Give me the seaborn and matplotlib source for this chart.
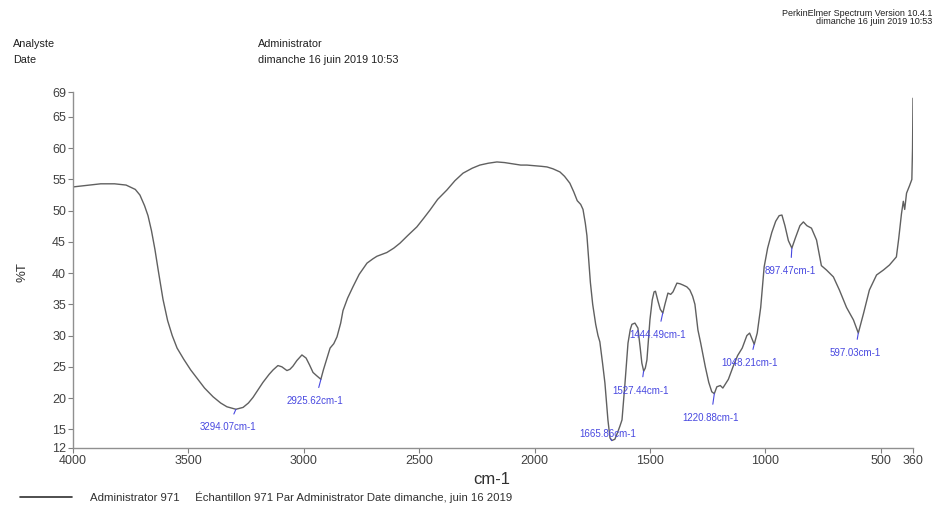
import matplotlib
matplotlib.use("Agg")
import matplotlib.pyplot as plt
import seaborn as sns
import pandas as pd

# ---- data ----
wavenumber = [4000, 3950, 3880, 3820, 3770, 3730, 3710, 3690, 3675, 3660, 3645, 3630, 3610, 3590,
              3570, 3549, 3520, 3490, 3463, 3430, 3393, 3360, 3333, 3294, 3263, 3240, 3220, 3200,
              3177, 3150, 3133, 3112, 3095, 3073, 3060, 3047, 3030, 3008, 2990, 2975, 2960, 2945,
              2926, 2915, 2900, 2886, 2870, 2856, 2840, 2830, 2810, 2787, 2760, 2726, 2700, 2683,
              2640, 2610, 2583, 2550, 2510, 2480, 2453, 2420, 2380, 2345, 2310, 2270, 2237, 2200,
              2163, 2130, 2094, 2060, 2033, 2000, 1970, 1946, 1920, 1890, 1870, 1847, 1830, 1815,
              1800, 1790, 1780, 1773, 1765, 1758, 1748, 1735, 1725, 1717, 1705, 1695, 1682, 1673,
              1665, 1652, 1640, 1630, 1621, 1608, 1595, 1585, 1578, 1565, 1552, 1542, 1535, 1527,
              1520, 1513, 1500, 1490, 1482, 1476, 1465, 1455, 1444, 1435, 1422, 1410, 1400, 1383,
              1370, 1357, 1340, 1327, 1315, 1305, 1292, 1280, 1260, 1245, 1232, 1221, 1210, 1195,
              1184, 1172, 1160, 1140, 1120, 1100, 1080, 1068, 1048, 1035, 1020, 1005, 990, 972,
              955, 940, 928, 915, 900, 885, 870, 850, 835, 820, 800, 778, 757, 735, 705, 679, 648,
              618, 597, 574, 549, 518, 488, 462, 432, 422, 410, 402, 396, 388, 375, 365,
              362, 360]
transmittance = [53.8, 54.0, 54.3, 54.3, 54.1, 53.4, 52.5, 50.8, 49.2, 46.8, 43.8, 40.3, 35.8, 32.4,
                 30.0, 28.0, 26.2, 24.5, 23.2, 21.6, 20.2, 19.2, 18.6, 18.2, 18.5, 19.2, 20.1, 21.2,
                 22.5, 23.8, 24.5, 25.2, 25.0, 24.4, 24.6, 25.1, 26.0, 26.9, 26.4, 25.3, 24.1, 23.6,
                 23.0, 24.5, 26.3, 28.0, 28.7, 29.8, 32.0, 34.0, 36.0, 37.8, 39.8, 41.6, 42.3, 42.7,
                 43.3, 44.0, 44.8, 46.0, 47.4, 48.8, 50.1, 51.8, 53.3, 54.8, 56.0, 56.8, 57.3, 57.6,
                 57.8, 57.7, 57.5, 57.3, 57.3, 57.2, 57.1, 57.0, 56.7, 56.2, 55.5, 54.4, 53.0, 51.6,
                 51.0, 50.2, 48.0, 46.0, 42.0, 38.5, 35.0, 31.8, 30.0, 29.0, 25.5, 22.4, 16.5, 13.6,
                 13.2, 13.4, 14.5, 15.5, 16.5, 22.4, 28.8, 31.0, 31.8, 32.0, 31.2, 28.0, 25.6, 24.3,
                 24.8, 26.1, 32.5, 35.7, 37.0, 37.1, 35.5, 34.2, 33.6, 35.0, 36.8, 36.6, 37.0, 38.4,
                 38.3, 38.1, 37.8, 37.3, 36.3, 35.0, 30.9, 28.8, 25.0, 22.5, 21.0, 20.7, 21.8, 22.0,
                 21.6, 22.3, 23.0, 25.0, 26.8, 28.0, 30.0, 30.4, 28.6, 30.4, 34.5, 41.0, 44.0, 46.5,
                 48.3, 49.2, 49.3, 47.6, 45.2, 44.0, 45.6, 47.6, 48.2, 47.6, 47.2, 45.3, 41.2, 40.5,
                 39.4, 37.3, 34.5, 32.5, 30.4, 33.6, 37.3, 39.7, 40.5, 41.3, 42.6, 45.5,
                 49.5, 51.5, 50.2, 52.8, 54.0, 55.0, 60.0, 68.0]

peak_labels = ["3294.07cm-1", "2925.62cm-1", "1665.86cm-1", "1527.44cm-1", "1444.49cm-1",
               "1220.88cm-1", "1048.21cm-1", "897.47cm-1", "597.03cm-1"]
peak_x = [3294.07, 2925.62, 1665.86, 1527.44, 1444.49, 1220.88, 1048.21, 885, 597.03]
peak_y = [18.2, 23.0, 13.2, 24.3, 33.6, 20.7, 28.6, 44.0, 30.4]
label_x = [3328, 2951, 1682, 1539, 1465, 1236, 1068, 891, 612]
label_y = [15.3, 19.5, 14.2, 21.2, 30.1, 16.8, 25.6, 40.3, 27.2]

x_ticks = [4000, 3500, 3000, 2500, 2000, 1500, 1000, 500, 360]
y_ticks = [12, 15, 20, 25, 30, 35, 40, 45, 50, 55, 60, 65, 69]

# ---- style ----
sns.set_style("white")
plt.rcParams["font.family"] = ["Liberation Sans", "DejaVu Sans"]

fig = plt.figure(figsize=(9.35, 5.17), dpi=100)
ax = fig.add_axes([73 / 935, 1 - 448 / 517, (913 - 73) / 935, (448 - 92) / 517])

df = pd.DataFrame({"cm-1": wavenumber, "%T": transmittance})
sns.lineplot(data=df, x="cm-1", y="%T", ax=ax, color="#606060", linewidth=1.0,
             estimator=None, sort=True)

ax.set_xlim(4000, 360)
ax.set_ylim(12, 69)
ax.set_xticks(x_ticks)
ax.set_xticklabels([str(v) for v in x_ticks])
ax.set_yticks(y_ticks)
ax.set_yticklabels([str(v) for v in y_ticks])
ax.tick_params(axis="both", which="both", direction="out", length=3.5, width=0.8,
               color="#808080", labelsize=9, labelcolor="#404040", pad=1.5,
               left=True, bottom=True)
for side in ["top", "right"]:
    ax.spines[side].set_visible(False)
for side in ["left", "bottom"]:
    ax.spines[side].set_color("#909090")
    ax.spines[side].set_linewidth(1.0)
ax.grid(False)

ax.set_xlabel("")
ax.set_ylabel("")
fig.text(492 / 935, 1 - 479 / 517, "cm-1", ha="center", va="center", fontsize=12, color="#303030")
fig.text(22 / 935, 1 - 272 / 517, "%T", ha="center", va="center", rotation=90, fontsize=9.5,
         color="#303030")

# peak annotations
for lab, px, py, lx, ly in zip(peak_labels, peak_x, peak_y, label_x, label_y):
    ax.annotate(lab, xy=(px, py), xytext=(lx, ly), textcoords="data",
                ha="center", va="center", fontsize=7, color="#4848e0",
                arrowprops=dict(arrowstyle="-", color="#4848e0", lw=0.8,
                                shrinkA=4, shrinkB=0))

# header texts
hdr = dict(fontsize=7.8, color="#202020", va="center")
fig.text(13 / 935, 1 - 44 / 517, "Analyste", ha="left", **hdr)
fig.text(13 / 935, 1 - 60 / 517, "Date", ha="left", **hdr)
fig.text(258 / 935, 1 - 44 / 517, "Administrator", ha="left", **hdr)
fig.text(258 / 935, 1 - 60 / 517, "dimanche 16 juin 2019 10:53", ha="left", **hdr)
fig.text(932 / 935, 1 - 13 / 517, "PerkinElmer Spectrum Version 10.4.1", ha="right",
         va="center", fontsize=6.5, color="#202020")
fig.text(932 / 935, 1 - 22 / 517, "dimanche 16 juin 2019 10:53", ha="right",
         va="center", fontsize=6.5, color="#202020")

# legend-like footer
fig.add_artist(plt.Line2D([20 / 935, 72 / 935], [1 - 497 / 517, 1 - 497 / 517],
                          color="#303030", linewidth=1.2, transform=fig.transFigure))
fig.text(90 / 935, 1 - 497 / 517,
         "Administrator 971     \u00c9chantillon 971 Par Administrator Date dimanche, juin 16 2019",
         ha="left", va="center", fontsize=8.2, color="#303030")

fig.savefig("out.png", dpi=100)
